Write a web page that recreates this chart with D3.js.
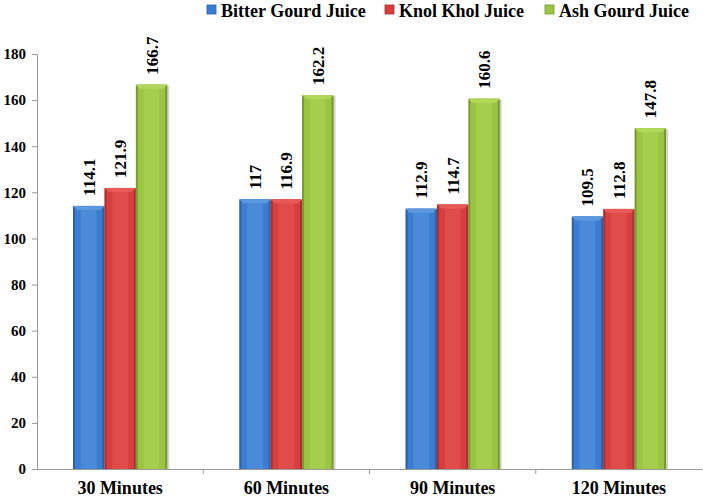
<!DOCTYPE html>
<html>
<head>
<meta charset="utf-8">
<script src="https://cdn.jsdelivr.net/npm/d3@7"></script>
<style>
  body { margin: 0; background: #fff; }
</style>
</head>
<body>
<div id="main"></div>
<script>
const categories = ['30 Minutes', '60 Minutes', '90 Minutes', '120 Minutes'];
const seriesNames = ['Bitter Gourd Juice', 'Knol Khol Juice', 'Ash Gourd Juice'];
const bitterGourd = [114.1, 117, 112.9, 109.5];
const knolKhol = [121.9, 116.9, 114.7, 112.8];
const ashGourd = [166.7, 162.2, 160.6, 147.8];
const yTicks = [0, 20, 40, 60, 80, 100, 120, 140, 160, 180];

const FONT = 'Liberation Serif';

const colors = [
  { base: '#3b7dd2', light: '#5b98e0', dark: '#2a60a8' },
  { base: '#d63f3d', light: '#e85a58', dark: '#a82d2b' },
  { base: '#9bc443', light: '#b2d85a', dark: '#769a2e' }
];

const W = 703, H = 502;
const margin = { top: 54, right: 0, bottom: 33, left: 37 };
const width = W - margin.left - margin.right - 1;
const height = H - margin.top - margin.bottom;

const svg = d3.select('#main').append('svg')
  .attr('width', W)
  .attr('height', H);

const outerG = svg.append('g')
  .attr('transform', 'translate(' + margin.left + ',' + margin.top + ')');

const x = d3.scaleBand()
  .domain(categories)
  .range([0, width]);

const xSub = d3.scaleBand()
  .domain(d3.range(seriesNames.length))
  .range([36, x.bandwidth() - 36]);

const y = d3.scaleLinear()
  .domain([0, 180])
  .range([height, 0]);

const data = categories.map((c, i) => ({
  cat: c,
  values: [bitterGourd[i], knolKhol[i], ashGourd[i]]
}));

// bars
const groups = outerG.selectAll('.grp')
  .data(data)
  .enter().append('g')
  .attr('class', 'grp')
  .attr('transform', d => 'translate(' + x(d.cat) + ',0)');

const bars = groups.selectAll('.bar')
  .data(d => d.values.map((v, i) => ({ v: v, i: i })))
  .enter().append('g')
  .attr('class', 'bar');

// shadow on the right
bars.append('rect')
  .attr('x', d => xSub(d.i) + 2)
  .attr('width', xSub.bandwidth())
  .attr('y', d => y(d.v) + 1)
  .attr('height', d => height - y(d.v) - 1)
  .attr('fill', '#000')
  .attr('opacity', 0.18);

// body: dark edge, base, lighter middle stripe
bars.append('rect')
  .attr('x', d => xSub(d.i))
  .attr('width', xSub.bandwidth())
  .attr('y', d => y(d.v))
  .attr('height', d => height - y(d.v))
  .attr('fill', d => colors[d.i].dark);

bars.append('rect')
  .attr('x', d => xSub(d.i) + 2)
  .attr('width', xSub.bandwidth() - 4)
  .attr('y', d => y(d.v))
  .attr('height', d => height - y(d.v))
  .attr('fill', d => colors[d.i].base);

bars.append('rect')
  .attr('x', d => xSub(d.i) + xSub.bandwidth() * 0.25)
  .attr('width', xSub.bandwidth() * 0.5)
  .attr('y', d => y(d.v))
  .attr('height', d => height - y(d.v))
  .attr('fill', d => colors[d.i].light)
  .attr('opacity', 0.5);

// top bevel
bars.append('path')
  .attr('d', d => {
    const x0 = xSub(d.i), x1 = x0 + xSub.bandwidth(), t = y(d.v), b = 4;
    return 'M' + x0 + ',' + t + 'L' + x1 + ',' + t + 'L' + (x1 - b) + ',' + (t + b) + 'L' + (x0 + b) + ',' + (t + b) + 'Z';
  })
  .attr('fill', d => colors[d.i].light);

// value labels
bars.append('text')
  .attr('transform', d => 'translate(' + (xSub(d.i) + xSub.bandwidth() / 2 + 6) + ',' + (y(d.v) - 10) + ') rotate(-90)')
  .attr('font-family', FONT)
  .attr('font-weight', 'bold')
  .attr('font-size', 17)
  .attr('fill', '#000')
  .text(d => d.v);

// y axis
const yAxis = outerG.append('g')
  .call(d3.axisLeft(y).tickValues(yTicks).tickSize(5).tickPadding(6));
yAxis.select('.domain').attr('stroke', '#999');
yAxis.selectAll('.tick line').attr('stroke', '#999');
yAxis.selectAll('.tick text')
  .attr('font-family', FONT)
  .attr('font-weight', 'bold')
  .attr('font-size', 15)
  .attr('fill', '#000');

// x axis
const xAxis = outerG.append('g')
  .attr('transform', 'translate(0,' + height + ')')
  .call(d3.axisBottom(x).tickSize(0).tickPadding(12));
xAxis.select('.domain').attr('stroke', '#999');
xAxis.selectAll('.tick text')
  .attr('font-family', FONT)
  .attr('font-weight', 'bold')
  .attr('font-size', 18)
  .attr('fill', '#000');
outerG.append('g')
  .selectAll('line')
  .data(categories.slice(1))
  .enter().append('line')
  .attr('x1', d => x(d)).attr('x2', d => x(d))
  .attr('y1', height).attr('y2', height + 5)
  .attr('stroke', '#999');

// legend
const legendX = [207, 385, 545];
const legend = svg.append('g')
  .selectAll('.leg')
  .data(seriesNames)
  .enter().append('g')
  .attr('class', 'leg')
  .attr('transform', (d, i) => 'translate(' + legendX[i] + ',4)');
legend.append('rect')
  .attr('width', 9).attr('height', 9)
  .attr('y', 1)
  .attr('fill', (d, i) => colors[i].base)
  .attr('stroke', (d, i) => colors[i].dark)
  .attr('stroke-width', 0.8);
legend.append('text')
  .attr('x', 14).attr('y', 13)
  .attr('font-family', FONT)
  .attr('font-weight', 'bold')
  .attr('font-size', 18)
  .attr('fill', '#000')
  .text(d => d);
</script>
</body>
</html>
